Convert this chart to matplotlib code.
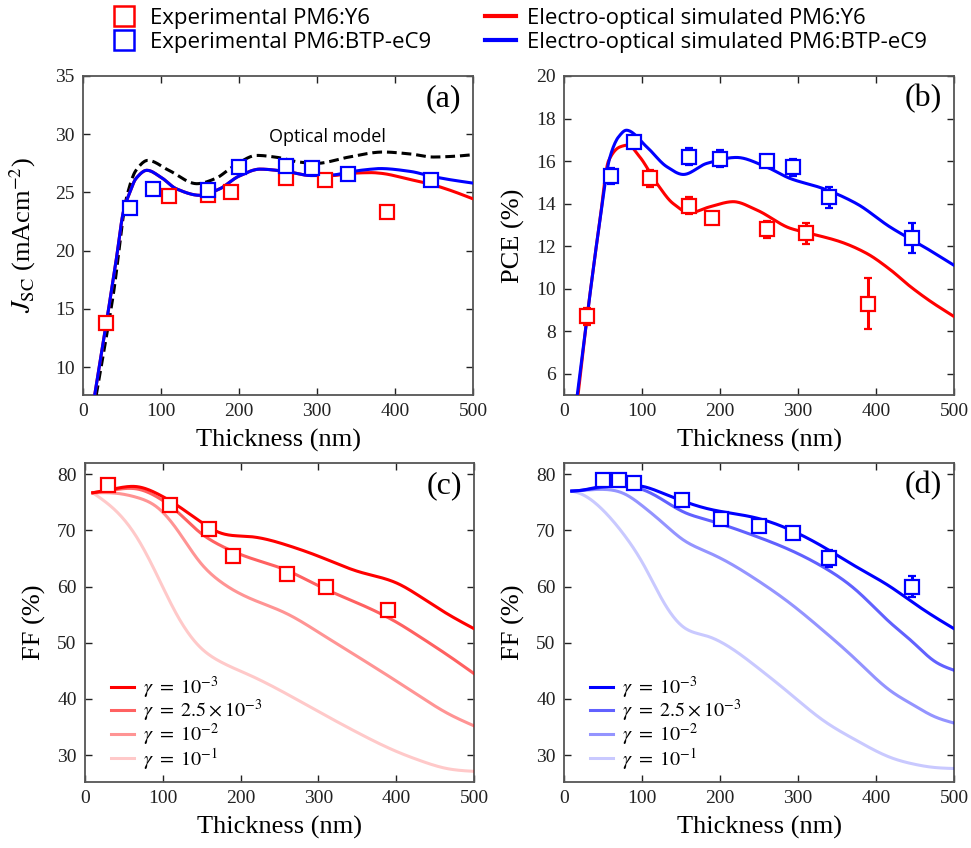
import matplotlib
matplotlib.use("Agg")
import matplotlib.pyplot as plt
from matplotlib.lines import Line2D
import numpy as np

plt.rcParams['font.family'] = ['Liberation Serif', 'DejaVu Serif']
plt.rcParams['mathtext.fontset'] = 'stix'

SANS = ['Liberation Sans Narrow', 'Open Sans', 'DejaVu Sans']

RED = '#ff0000'
BLUE = '#0000ff'

# ---- (a) short-circuit current ----
jsc_y6_x = [30, 110, 160, 190, 260, 310, 390]
jsc_y6 = [13.8, 24.7, 24.8, 25.0, 26.2, 26.1, 23.3]
jsc_y6_err = [0.3, 0.2, 0.3, 0.3, 0.4, 0.4, 0.4]
jsc_ec9_x = [60, 90, 160, 200, 260, 293, 340, 446]
jsc_ec9 = [23.7, 25.3, 25.2, 27.2, 27.3, 27.1, 26.6, 26.1]
jsc_ec9_err = [0.2, 0.3, 0.3, 0.4, 0.4, 0.4, 0.4, 0.5]

jsc_sim_x = [15, 30, 43, 52, 60, 68, 82, 100, 120, 150, 175, 200, 227, 260, 293, 320, 345, 370, 381, 420, 446, 470, 500]
jsc_sim_y6 = [7.6, 13.8, 19.4, 23.4, 25.0, 26.2, 26.9, 26.3, 25.3, 24.75, 25.3, 26.4, 27.0, 26.8, 26.45, 26.45, 26.65, 26.7, 26.65, 26.1, 25.7, 25.2, 24.45]
jsc_sim_ec9 = [7.6, 13.8, 19.4, 23.4, 25.0, 26.2, 26.9, 26.3, 25.3, 24.75, 25.3, 26.4, 27.0, 26.8, 26.45, 26.5, 26.8, 27.0, 27.05, 26.8, 26.4, 26.1, 25.8]
jsc_opt_x = [17, 39, 56, 68, 83, 110, 146, 170, 192, 223, 250, 278, 300, 338, 385, 420, 449, 475, 500]
jsc_opt = [7.6, 16.3, 24.6, 26.9, 27.75, 26.9, 25.75, 26.2, 27.2, 28.18, 28.0, 27.6, 27.5, 28.0, 28.47, 28.3, 28.04, 28.1, 28.24]

# ---- (b) power conversion efficiency ----
pce_y6_x = [30, 110, 160, 190, 260, 310, 390]
pce_y6 = [8.7, 15.2, 13.9, 13.3, 12.8, 12.6, 9.3]
pce_y6_err = [0.4, 0.4, 0.4, 0.1, 0.4, 0.5, 1.2]
pce_ec9_x = [60, 90, 160, 200, 260, 293, 340, 446]
pce_ec9 = [15.3, 16.9, 16.2, 16.1, 16.0, 15.7, 14.3, 12.4]
pce_ec9_err = [0.37, 0.2, 0.4, 0.4, 0.2, 0.4, 0.5, 0.7]

pce_sim_x_y6 = [18, 29, 46, 57, 72, 82, 97, 119, 140, 161, 187, 217, 247, 290, 315, 354, 388, 418, 444, 470, 500]
pce_sim_y6 = [5.0, 8.5, 13.2, 16.0, 16.67, 16.75, 16.2, 14.95, 14.0, 13.57, 13.85, 14.09, 13.7, 12.84, 12.6, 12.21, 11.66, 10.9, 10.1, 9.4, 8.69]
pce_sim_x_ec9 = [17, 29, 46, 59, 70, 80, 106, 132, 153, 183, 221, 259, 290, 332, 375, 418, 461, 500]
pce_sim_ec9 = [5.0, 8.5, 13.2, 16.2, 17.14, 17.45, 16.67, 15.73, 15.37, 15.89, 16.17, 15.73, 15.18, 14.71, 14.0, 12.9, 11.98, 11.1]

# ---- (c) fill factor, PM6:Y6 ----
ff_y6_x = [30, 109, 160, 190, 260, 310, 390]
ff_y6 = [78.0, 74.5, 70.3, 65.4, 62.2, 60.0, 55.8]
ff_y6_err = [0.6, 0.9, 1.0, 0.6, 0.8, 0.7, 1.0]
gamma_labels = [r'$\gamma\ =\ 10^{-3}$', r'$\gamma\ =\ 2.5\times10^{-3}$',
                r'$\gamma\ =\ 10^{-2}$', r'$\gamma\ =\ 10^{-1}$']
gamma_alpha = [1.0, 0.62, 0.42, 0.21]
ff_y6_sim_x = [10, 41, 66, 92, 118, 148, 173, 212, 259, 302, 353, 401, 431, 465, 500]
ff_y6_sim = [
    [76.7, 77.5, 77.8, 76.6, 74.5, 71.6, 69.6, 68.9, 67.4, 65.3, 62.6, 60.6, 58.2, 55.2, 52.5],
    [76.7, 77.3, 77.4, 76.0, 73.4, 69.6, 67.4, 65.1, 62.9, 60.0, 56.9, 53.6, 51.0, 47.9, 44.5],
    [76.7, 76.6, 75.9, 74.2, 70.2, 64.3, 61.0, 57.9, 55.2, 51.7, 47.3, 43.1, 40.4, 37.5, 35.2],
    [76.7, 73.3, 68.9, 62.2, 55.0, 49.2, 46.7, 44.2, 40.9, 37.6, 33.8, 30.6, 29.0, 27.6, 27.1],
]

# ---- (d) fill factor, PM6:BTP-eC9 ----
ff_ec9_x = [50, 70, 90, 151, 201, 250, 293, 340, 446]
ff_ec9 = [79.0, 79.0, 78.5, 75.4, 72.0, 70.8, 69.5, 65.0, 60.0]
ff_ec9_err = [0.8, 0.7, 0.7, 1.1, 1.0, 0.8, 0.8, 1.5, 1.8]
ff_ec9_sim_x = [10, 20, 50, 76, 102, 127, 153, 183, 204, 247, 290, 332, 375, 418, 448, 474, 500]
ff_ec9_sim = [
    [77.0, 77.1, 77.9, 78.1, 77.8, 76.6, 75.2, 73.9, 73.3, 72.2, 70.1, 67.1, 63.5, 60.0, 57.1, 54.7, 52.5],
    [77.0, 77.1, 77.7, 77.9, 77.2, 75.4, 73.3, 71.9, 71.0, 68.9, 66.5, 63.5, 59.3, 53.6, 50.0, 46.8, 45.1],
    [77.0, 77.1, 77.3, 76.6, 74.2, 71.3, 68.3, 66.2, 64.8, 61.2, 57.0, 52.2, 46.9, 41.5, 38.9, 36.9, 35.7],
    [77.0, 76.6, 73.6, 69.4, 63.9, 57.4, 52.8, 51.2, 49.9, 45.7, 40.9, 36.2, 32.6, 29.6, 28.4, 27.8, 27.6],
]


def monotone(xp, yp, n=400):
    # Fritsch-Carlson monotone cubic, keeps the steep rise from overshooting
    xp = np.asarray(xp, float)
    yp = np.asarray(yp, float)
    h = np.diff(xp)
    d = np.diff(yp) / h
    m = np.zeros_like(yp)
    m[0], m[-1] = d[0], d[-1]
    for i in range(1, len(xp) - 1):
        if d[i - 1] * d[i] <= 0:
            m[i] = 0.0
        else:
            w1 = 2 * h[i] + h[i - 1]
            w2 = h[i] + 2 * h[i - 1]
            m[i] = (w1 + w2) / (w1 / d[i - 1] + w2 / d[i])
    return hermite(xp, yp, m, n)


def natural(xp, yp, n=400):
    # natural cubic spline, used for the gently varying FF curves
    xp = np.asarray(xp, float)
    yp = np.asarray(yp, float)
    N = len(xp)
    h = np.diff(xp)
    A = np.zeros((N, N))
    r = np.zeros(N)
    A[0, 0] = A[-1, -1] = 1.0
    for i in range(1, N - 1):
        A[i, i - 1] = h[i - 1]
        A[i, i] = 2 * (h[i - 1] + h[i])
        A[i, i + 1] = h[i]
        r[i] = 6 * ((yp[i + 1] - yp[i]) / h[i] - (yp[i] - yp[i - 1]) / h[i - 1])
    M = np.linalg.solve(A, r)
    xs = np.linspace(xp[0], xp[-1], n)
    k = np.clip(np.searchsorted(xp, xs) - 1, 0, N - 2)
    a = xp[k + 1] - xs
    b = xs - xp[k]
    hk = h[k]
    ys = (M[k] * a**3 + M[k + 1] * b**3) / (6 * hk) \
        + (yp[k] / hk - M[k] * hk / 6) * a + (yp[k + 1] / hk - M[k + 1] * hk / 6) * b
    return xs, ys


def hermite(xp, yp, m, n):
    h = np.diff(xp)
    xs = np.linspace(xp[0], xp[-1], n)
    k = np.clip(np.searchsorted(xp, xs) - 1, 0, len(xp) - 2)
    t = (xs - xp[k]) / h[k]
    h00 = 2 * t**3 - 3 * t**2 + 1
    h10 = t**3 - 2 * t**2 + t
    h01 = -2 * t**3 + 3 * t**2
    h11 = t**3 - t**2
    ys = h00 * yp[k] + h10 * h[k] * m[k] + h01 * yp[k + 1] + h11 * h[k] * m[k + 1]
    return xs, ys


def style_axes(ax, ylim, yticks, label):
    ax.set_xlim(0, 500)
    ax.set_ylim(*ylim)
    ax.set_xticks([0, 100, 200, 300, 400, 500])
    ax.set_yticks(yticks)
    ax.tick_params(direction='in', top=True, right=True, length=5, width=1,
                   labelsize=14, colors='#222222', pad=6)
    for s in ax.spines.values():
        s.set_color('#555555')
        s.set_linewidth(1.3)
    ax.set_xlabel('Thickness (nm)', fontsize=19, labelpad=6)
    ax.text(0.97, 0.93, label, transform=ax.transAxes, ha='right', va='center',
            fontsize=23)


def points(ax, x, y, err, color, ms=10):
    ax.errorbar(x, y, yerr=err, fmt='s', ms=ms, mfc='white', mec=color, mew=1.6,
                ecolor=color, elinewidth=2.2, capsize=3, capthick=2.2, zorder=5)


fig = plt.figure(figsize=(9.71, 8.48), dpi=100)
W, H = 971, 848
def add(l, t, r, b):
    return fig.add_axes([l / W, 1 - b / H, (r - l) / W, (b - t) / H])

ax_a = add(83, 76, 473, 395)
ax_b = add(564, 76, 954, 395)
ax_c = add(85, 463, 474, 782)
ax_d = add(564, 463, 954, 782)

# (a)
xs, ys = monotone(jsc_opt_x, jsc_opt)
ax_a.plot(xs, ys, '--', color='black', lw=2.2, dashes=(3.2, 1.6), zorder=3)
xs, ys = monotone(jsc_sim_x, jsc_sim_y6)
ax_a.plot(xs, ys, color=RED, lw=2.2, zorder=3)
xs, ys = monotone(jsc_sim_x, jsc_sim_ec9)
ax_a.plot(xs, ys, color=BLUE, lw=2.2, zorder=4)
points(ax_a, jsc_y6_x, jsc_y6, jsc_y6_err, RED)
points(ax_a, jsc_ec9_x, jsc_ec9, jsc_ec9_err, BLUE)
ax_a.text(314, 29.8, 'Optical model', fontsize=13, family=SANS, ha='center', va='center')
style_axes(ax_a, (7.6, 35), [10, 15, 20, 25, 30, 35], '(a)')
ax_a.set_ylabel(r'$J_{\mathrm{SC}}$ (mAcm$^{-2}$)', fontsize=19, labelpad=12)

# (b)
xs, ys = monotone(pce_sim_x_y6, pce_sim_y6)
ax_b.plot(xs, ys, color=RED, lw=2.2, zorder=3)
xs, ys = monotone(pce_sim_x_ec9, pce_sim_ec9)
ax_b.plot(xs, ys, color=BLUE, lw=2.2, zorder=4)
points(ax_b, pce_y6_x, pce_y6, pce_y6_err, RED)
points(ax_b, pce_ec9_x, pce_ec9, pce_ec9_err, BLUE)
style_axes(ax_b, (5, 20), [6, 8, 10, 12, 14, 16, 18, 20], '(b)')
ax_b.set_ylabel('PCE (%)', fontsize=19, labelpad=8)

# (c) and (d)
for ax, sx, curves, px, py, pe, col in [
        (ax_c, ff_y6_sim_x, ff_y6_sim, ff_y6_x, ff_y6, ff_y6_err, RED),
        (ax_d, ff_ec9_sim_x, ff_ec9_sim, ff_ec9_x, ff_ec9, ff_ec9_err, BLUE)]:
    hs = []
    for yv, a, lab in zip(curves, gamma_alpha, gamma_labels):
        xs, ys = natural(sx, yv)
        h, = ax.plot(xs, ys, color=col, alpha=a, lw=2.2, label=lab, zorder=3)
        hs.append(h)
    points(ax, px, py, pe, col, ms=10)
    ax.legend(handles=hs, loc='lower left', bbox_to_anchor=(0.035, -0.005),
              frameon=False, fontsize=14.5, handlelength=1.15, handletextpad=0.45,
              labelspacing=-0.12, borderaxespad=0.2)
    style_axes(ax, (25.2, 82), [30, 40, 50, 60, 70, 80],
               '(c)' if ax is ax_c else '(d)')
    ax.set_ylabel('FF (%)', fontsize=19, labelpad=8)

# shared legend on top
handles = [
    Line2D([], [], ls='none', marker='s', ms=14, mfc='none', mec=RED, mew=1.8),
    Line2D([], [], ls='none', marker='s', ms=14, mfc='none', mec=BLUE, mew=1.8),
    Line2D([], [], color=RED, lw=3),
    Line2D([], [], color=BLUE, lw=3),
]
labels = ['Experimental PM6:Y6', 'Experimental PM6:BTP-eC9',
          'Electro-optical simulated PM6:Y6', 'Electro-optical simulated PM6:BTP-eC9']
fig.legend(handles, labels, ncol=2, loc='upper center', bbox_to_anchor=(0.533, 1.014),
           frameon=False, prop={'family': SANS, 'size': 16}, handlelength=1.4,
           handletextpad=0.5, columnspacing=2.4, labelspacing=0.12)

fig.savefig('out.png', dpi=100)
